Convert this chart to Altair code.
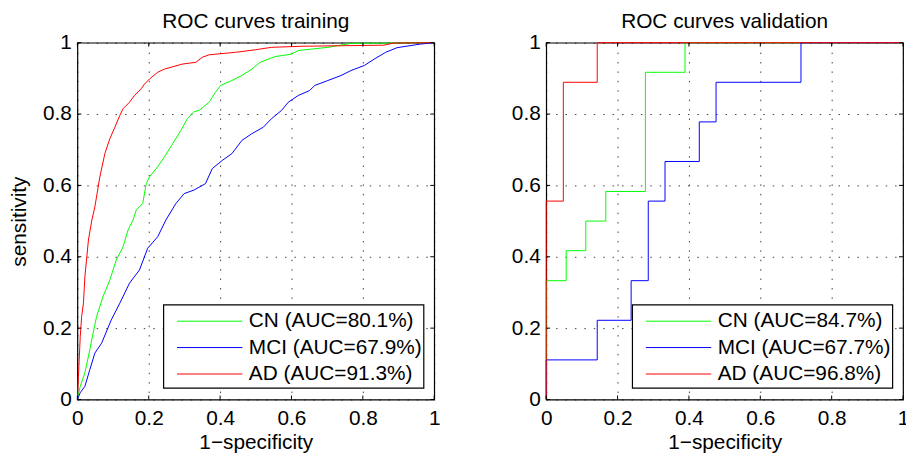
import altair as alt
import pandas as pd

FONT = "Liberation Sans"
FS = 21
TICKS = [0, 0.2, 0.4, 0.6, 0.8, 1.0]
CLASSES = ["CN", "MCI", "AD"]
COLORS = ["#00ff00", "#0000ff", "#ff0000"]

# ---- training ROC curves ----
train_cn_x = [0, 0.008, 0.021, 0.035, 0.044, 0.054, 0.072, 0.091, 0.109, 0.128, 0.142, 0.156, 0.165,
              0.183, 0.193, 0.202, 0.225, 0.244, 0.267, 0.290, 0.308, 0.327, 0.341, 0.369, 0.387, 0.401,
              0.433, 0.461, 0.489, 0.512, 0.554, 0.600, 0.619, 0.702, 0.767, 1.0]
train_cn_y = [0, 0.037, 0.075, 0.140, 0.186, 0.233, 0.289, 0.335, 0.391, 0.428, 0.475, 0.503, 0.531,
              0.549, 0.605, 0.624, 0.652, 0.680, 0.717, 0.754, 0.787, 0.807, 0.810, 0.833, 0.861, 0.880,
              0.894, 0.908, 0.926, 0.945, 0.961, 0.968, 0.978, 0.987, 0.998, 1.0]

train_mci_x = [0, 0.008, 0.021, 0.035, 0.049, 0.068, 0.095, 0.119, 0.146, 0.174, 0.197, 0.225, 0.248,
               0.276, 0.299, 0.327, 0.359, 0.378, 0.406, 0.433, 0.461, 0.489, 0.521, 0.544, 0.572, 0.591,
               0.619, 0.651, 0.665, 0.702, 0.739, 0.767, 0.804, 0.832, 0.864, 0.896, 0.961, 1.0]
train_mci_y = [0, 0.019, 0.037, 0.084, 0.130, 0.158, 0.223, 0.270, 0.326, 0.363, 0.424, 0.456, 0.503,
               0.549, 0.577, 0.587, 0.605, 0.647, 0.670, 0.689, 0.726, 0.745, 0.763, 0.787, 0.810, 0.833,
               0.852, 0.866, 0.880, 0.894, 0.908, 0.922, 0.936, 0.954, 0.973, 0.986, 0.996, 1.0]

train_ad_x = [0, 0.003, 0.008, 0.012, 0.017, 0.021, 0.031, 0.040, 0.049, 0.063, 0.077, 0.091, 0.105,
              0.119, 0.128, 0.146, 0.160, 0.179, 0.188, 0.202, 0.225, 0.244, 0.294, 0.332, 0.350, 0.369,
              0.443, 0.498, 0.544, 0.632, 0.859, 0.887, 1.0]
train_ad_y = [0, 0.065, 0.177, 0.233, 0.270, 0.344, 0.447, 0.500, 0.540, 0.624, 0.689, 0.731, 0.763,
              0.796, 0.815, 0.833, 0.852, 0.871, 0.884, 0.898, 0.917, 0.926, 0.940, 0.945, 0.959, 0.966,
              0.973, 0.980, 0.987, 0.990, 0.993, 0.999, 1.0]

# ---- validation ROC curves (step points) ----
val_cn_x = [0, 0, 0.056, 0.111, 0.167, 0.278, 0.389, 1.0]
val_cn_y = [0, 0.333, 0.417, 0.500, 0.583, 0.917, 1.0, 1.0]

val_mci_x = [0, 0, 0.143, 0.238, 0.286, 0.333, 0.429, 0.476, 0.714, 1.0]
val_mci_y = [0, 0.111, 0.222, 0.333, 0.556, 0.667, 0.778, 0.889, 1.0, 1.0]

val_ad_x = [0, 0, 0.048, 0.143, 1.0]
val_ad_y = [0, 0.556, 0.889, 1.0, 1.0]

train_auc = ["80.1%", "67.9%", "91.3%"]
val_auc = ["84.7%", "67.7%", "96.8%"]

W = 360
H = 360

XENC = alt.X("x:Q", title="1\u2212specificity",
             scale=alt.Scale(domain=[0, 1], nice=False, zero=False),
             axis=alt.Axis(values=TICKS, format="~g", labelPadding=8, titlePadding=3,
                           labelFlush=False))


def yenc(show_title):
    return alt.Y("y:Q", title="sensitivity" if show_title else None,
                 scale=alt.Scale(domain=[0, 1], nice=False, zero=False),
                 axis=alt.Axis(values=TICKS, format="~g", labelPadding=6, titlePadding=13,
                               labelFlush=False))


def panel(title, curves, aucs, interp, show_ytitle):
    Y = yenc(show_ytitle)
    layers = []
    for (cx, cy), name, col in zip(curves, CLASSES, COLORS):
        df = pd.DataFrame({"x": cx, "y": cy, "order": range(len(cx))})
        layers.append(
            alt.Chart(df).mark_line(color=col, strokeWidth=1, interpolate=interp)
            .encode(x=XENC, y=Y, order="order:Q")
        )
    tx = pd.DataFrame({"x": TICKS})
    ty = pd.DataFrame({"y": TICKS})
    layers.append(alt.Chart(tx).mark_rule(color="black", strokeWidth=1)
                  .encode(x=XENC, y=alt.value(H), y2=alt.value(H - 4)))
    layers.append(alt.Chart(tx).mark_rule(color="black", strokeWidth=1)
                  .encode(x=XENC, y=alt.value(0), y2=alt.value(4)))
    layers.append(alt.Chart(ty).mark_rule(color="black", strokeWidth=1)
                  .encode(y=Y, x=alt.value(0), x2=alt.value(4)))
    layers.append(alt.Chart(ty).mark_rule(color="black", strokeWidth=1)
                  .encode(y=Y, x=alt.value(W), x2=alt.value(W - 4)))
    # legend box
    box = pd.DataFrame({"k": [0]})
    layers.append(alt.Chart(box).mark_rect(fill="white", stroke="black", strokeWidth=1.2)
                  .encode(x=alt.value(87), x2=alt.value(349.5), y=alt.value(264.5), y2=alt.value(348.5)))
    rows = [281, 307.6, 334.3]
    for name, auc, col, ry in zip(CLASSES, aucs, COLORS, rows):
        lab = pd.DataFrame({"label": [f"{name} (AUC={auc})"]})
        layers.append(alt.Chart(lab).mark_rule(color=col, strokeWidth=1)
                      .encode(x=alt.value(100.5), x2=alt.value(166.5), y=alt.value(ry)))
        layers.append(alt.Chart(lab).mark_text(align="left", baseline="middle", font=FONT,
                                               fontSize=FS, color="black")
                      .encode(x=alt.value(173), y=alt.value(ry), text="label:N"))
    return alt.layer(*layers).properties(
        width=W, height=H,
        title=alt.TitleParams(title, font=FONT, fontSize=FS, fontWeight="normal",
                              color="black", offset=0),
    )


left = panel("ROC curves training",
             [(train_cn_x, train_cn_y), (train_mci_x, train_mci_y), (train_ad_x, train_ad_y)],
             train_auc, "linear", True)
right = panel("ROC curves validation",
              [(val_cn_x, val_cn_y), (val_mci_x, val_mci_y), (val_ad_x, val_ad_y)],
              val_auc, "step-after", False)

chart = (
    alt.hconcat(left, right, spacing=113, bounds="flush")
    .properties(padding={"left": 0, "top": 0, "right": -4, "bottom": -1}, background="white")
    .configure_view(stroke="black", strokeWidth=1.2)
    .configure_axis(
        labelFont=FONT, labelFontSize=FS, labelColor="black",
        titleFont=FONT, titleFontSize=FS, titleFontWeight="normal", titleColor="black",
        grid=True, gridColor="#000000", gridDash=[1.5, 8], gridWidth=1, gridOpacity=0.75,
        domain=False, ticks=False, tickSize=0,
    )
)

chart.save("out.html", embed_options={"renderer": "svg", "actions": False})
